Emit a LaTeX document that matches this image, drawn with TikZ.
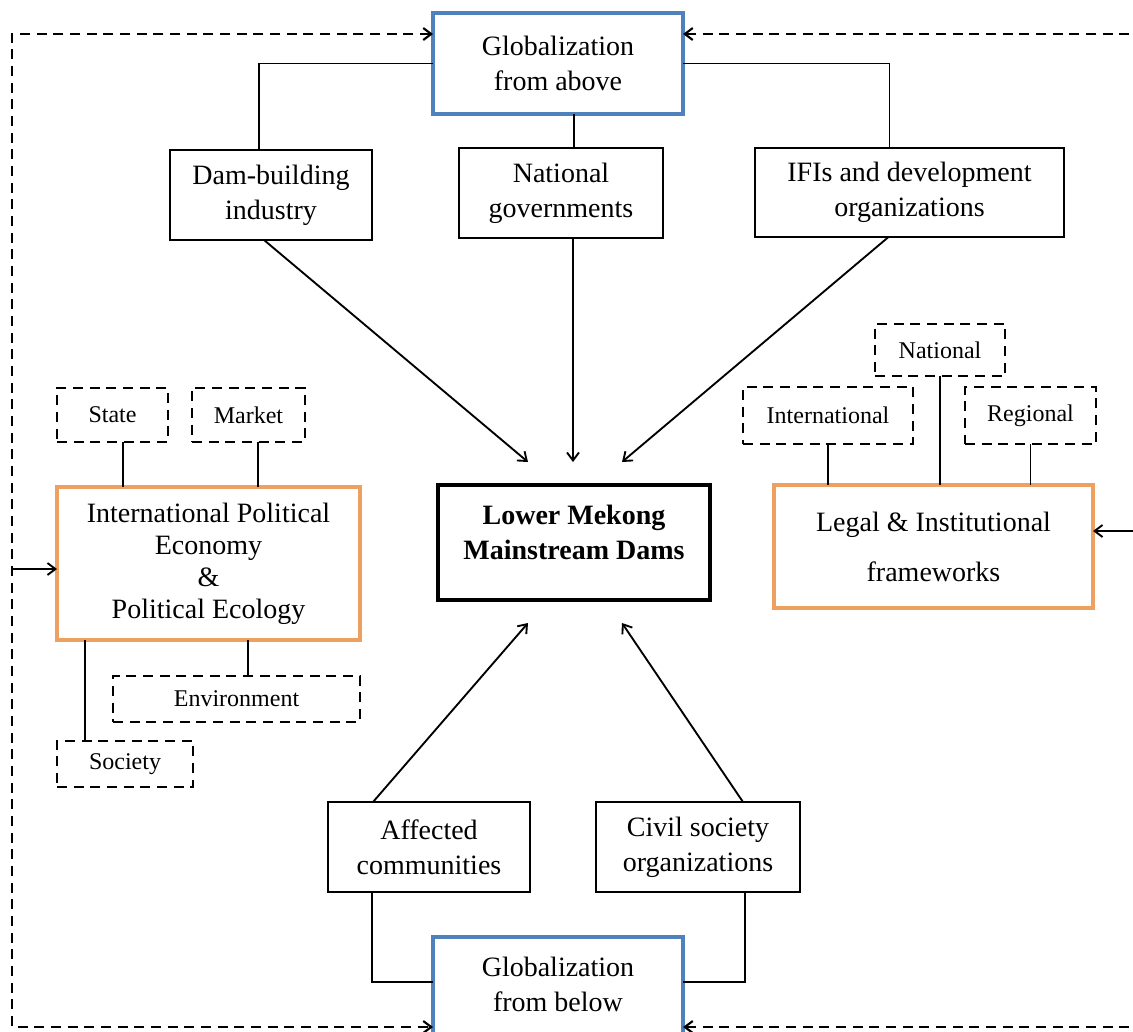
\documentclass[tikz,border=0pt]{standalone}
\usepackage{fontspec}
\setmainfont{Liberation Serif}
\usetikzlibrary{arrows.meta,calc}
\definecolor{gblue}{RGB}{79,129,189}
\definecolor{gorange}{RGB}{237,160,96}
\newcommand{\fmain}{\fontsize{21}{26.25}\selectfont}
\newcommand{\fsmall}{\fontsize{18}{22}\selectfont}
\newcommand{\fipe}{\fontsize{21}{24}\selectfont}
\newcommand{\flegal}{\fontsize{21}{37.5}\selectfont}
\begin{document}
\begin{tikzpicture}[x=0.75pt,y=-0.75pt,
  sz/.style 2 args={minimum width=#1*0.75pt, minimum height=#2*0.75pt},
  blk/.style={draw=black, line width=1.6pt, inner sep=0pt, outer sep=0pt, align=center, font=\fmain},
  gbox/.style={blk, draw=gblue, line width=3pt},
  obox/.style={blk, draw=gorange, line width=3pt},
  dbox/.style={draw=black, line width=1.6pt, dash pattern=on 7.5pt off 5pt, inner sep=0pt, outer sep=0pt, align=center, font=\fsmall},
  conn/.style={line width=1.4pt},
  arr/.style={conn, -{Straight Barb[length=6pt,width=9pt]}},
  dconn/.style={line width=1.6pt, dash pattern=on 7.5pt off 5pt}]
\useasboundingbox (0,0) rectangle (1133,1032);
\fill[white] (0,0) rectangle (1133,1032);
\clip (0,0) rectangle (1133,1032);

% top
\node[gbox, sz={250}{101}] (ga) at (558,63.5) {Globalization\\from above};
\node[blk, sz={202}{90}] (dam) at (271,195) {Dam-building\\industry};
\node[blk, sz={204}{90}] (nat) at (561,193) {National\\governments};
\node[blk, sz={309}{89}] (ifi) at (909.5,192.5) {IFIs and development\\organizations};

% centre
\node[blk, sz={272}{115}, line width=2.4pt] (lm) at (574,542.5) {};
\node[font=\fmain\bfseries, align=center, inner sep=0pt] (lmt) at (574,532) {Lower Mekong\\Mainstream Dams};

% bottom
\node[blk, sz={202}{90}] (aff) at (429,847) {Affected\\communities};
\node[blk, sz={204}{90}] (civ) at (698,847) {Civil society\\organizations};
\node[gbox, sz={250}{103}] (gb) at (558,988.5) {};
\node[font=\fmain, align=center, inner sep=0pt] (gbt) at (558,984.5) {Globalization\\from below};

% left
\node[obox, sz={303}{153}, font=\fipe] (ipe) at (208.5,563.5) {International Political\\Economy\\\&\\Political Ecology};
\node[dbox, sz={111}{54}] (state) at (112.5,415) {State};
\node[dbox, sz={113}{54}] (market) at (248.5,415) {Market};
\node[dbox, sz={247}{46}] (env) at (236.5,699) {Environment};
\node[dbox, sz={136}{46}] (soc) at (125,764) {Society};

% right
\node[obox, sz={319}{123}, font=\flegal] (legal) at (933.5,546.5) {Legal \& Institutional\\frameworks};
\node[dbox, sz={130}{52}] (natl) at (940,350) {National};
\node[dbox, sz={170}{57}] (intl) at (828,415.5) {International};
\node[dbox, sz={131}{57}] (reg) at (1030.5,415.5) {Regional};

% helper coordinates
\coordinate (tl) at (12,34);
\coordinate (bl) at (12,1027);
\coordinate (tr) at (1140,34);
\coordinate (br) at (1140,1027);
\coordinate (la) at (12,569);
\coordinate (ra) at (1140,531);
\coordinate (t1) at (528,462);
\coordinate (t2) at (573,462);
\coordinate (t3) at (622,462);
\coordinate (b1) at (528,623);
\coordinate (b2) at (622,623);
\path ($(ga.south)+(16,0)$) coordinate (gas);
\path ($(dam.north)+(-12,0)$) coordinate (damn);
\path ($(ifi.north)+(-20,0)$) coordinate (ifin);
\path ($(state.south)+(10.5,0)$) coordinate (sts);
\path ($(market.south)+(9.5,0)$) coordinate (mks);
\path ($(env.north)+(11.5,0)$) coordinate (envn);
\path ($(soc.north)+(-40,0)$) coordinate (socn);
\path ($(aff.south)+(-57,0)$) coordinate (affs);
\path ($(civ.south)+(47,0)$) coordinate (civs);
\path ($(gb.west)+(0,-6.5)$) coordinate (gbw);
\path ($(gb.east)+(0,-6.5)$) coordinate (gbe);

% globalization from above links
\draw[conn] (ga.west) -| (damn);
\draw[conn] (ga.east) -| (ifin);
\draw[conn] (gas) -- (gas |- nat.north);

% arrows to the dams
\draw[arr] ($(dam.south)+(-7,0)$) -- (t1);
\draw[arr] (t2 |- nat.south) -- (t2);
\draw[arr] ($(ifi.south)+(-21,0)$) -- (t3);
\draw[arr] ($(aff.north)+(-56,0)$) -- (b1);
\draw[arr] ($(civ.north)+(45,0)$) -- (b2);

% globalization from below links
\draw[conn] (affs) |- (gbw);
\draw[conn] (civs) |- (gbe);

% left cluster links
\draw[conn] (sts) -- (sts |- ipe.north);
\draw[conn] (mks) -- (mks |- ipe.north);
\draw[conn] (envn |- ipe.south) -- (envn);
\draw[conn] (socn |- ipe.south) -- (socn);

% right cluster links
\draw[conn] (intl.south) -- (intl.south |- legal.north);
\draw[conn] (natl.south) -- (natl.south |- legal.north);
\draw[conn] (reg.south) -- (reg.south |- legal.north);

% feedback loop
\draw[dconn, {Straight Barb[length=6pt,width=9pt]}-{Straight Barb[length=6pt,width=9pt]}] (ga.west |- tl) -- (tl) -- (bl) -- (gb.west |- bl);
\draw[dconn, {Straight Barb[length=6pt,width=9pt]}-] (ga.east |- tr) -- (tr);
\draw[dconn, {Straight Barb[length=6pt,width=9pt]}-] (gb.east |- br) -- (br);
\draw[arr] (la) -- (la -| ipe.west);
\draw[arr] (ra) -- (ra -| legal.east);
\end{tikzpicture}
\end{document}
